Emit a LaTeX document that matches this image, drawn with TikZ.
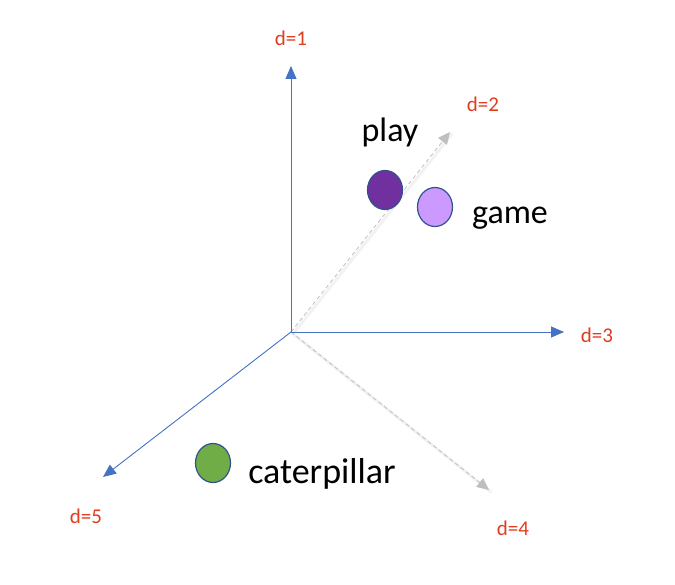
\documentclass[tikz,border=0pt]{standalone}
\usepackage{fontspec}
\setmainfont{Carlito}
\usetikzlibrary{arrows.meta,shapes.geometric}
\definecolor{axisblue}{HTML}{4472C4}
\definecolor{lblred}{HTML}{E03C1E}
\definecolor{edgeblue}{HTML}{2F528F}
\definecolor{darkpurple}{HTML}{7030A0}
\definecolor{lightpurple}{HTML}{CC99FF}
\definecolor{leafgreen}{HTML}{70AD47}
\tikzset{
  axis/.style={draw=axisblue, line width=0.9pt, -{Triangle[length=13pt,width=11pt]}},
  faintaxis/.style={draw=black!25, line width=0.8pt, dash pattern=on 4pt off 3pt, -{Triangle[length=12pt,width=11pt,fill=black!25]}},
  shadowaxis/.style={draw=black!5, line width=3pt, line cap=round},
  dlabel/.style={text=lblred, font=\fontsize{21}{25}\selectfont},
  word/.style={text=black, font=\fontsize{34}{40}\selectfont},
  dot/.style={draw=edgeblue, line width=1.2pt, ellipse, minimum width=35pt, minimum height=39pt, inner sep=0pt},
}
\begin{document}
\begin{tikzpicture}[x=1pt,y=-1pt]
\useasboundingbox (0,0) rectangle (675,585);
\coordinate (o) at (291,332);
\coordinate (t1) at (291,66);
\coordinate (t2) at (450,132);
\coordinate (t3) at (564,332);
\coordinate (t4) at (489,490);
\coordinate (t5) at (103,477);
% soft shadows for faint axes
\draw[shadowaxis] ([xshift=2pt,yshift=-2pt]o) -- ([xshift=2pt,yshift=-2pt]t2);
\draw[shadowaxis] ([xshift=2pt,yshift=-2pt]o) -- ([xshift=2pt,yshift=-2pt]t4);
\draw[faintaxis] (o) -- (t2);
\draw[faintaxis] (o) -- (t4);
\draw[axis] (o) -- (t1);
\draw[axis] (o) -- (t3);
\draw[axis] (o) -- (t5);
\node[dlabel] (l1) at (291,38) {d=1};
\node[dlabel] (l2) at (483,104) {d=2};
\node[dlabel] (l3) at (597,335) {d=3};
\node[dlabel] (l4) at (513,528) {d=4};
\node[dlabel] (l5) at (86,516) {d=5};
\node[dot, fill=darkpurple] (cplay) at (385,190) {};
\node[dot, fill=lightpurple] (cgame) at (435,207) {};
\node[dot, fill=leafgreen] (ccat) at (213,463) {};
\node[word] (wplay) at (390,132) {play};
\node[word] (wgame) at (510,218) {game};
\node[word, font=\fontsize{36}{42}\selectfont] (wcat) at (322,474) {caterpillar};
\end{tikzpicture}
\end{document}
